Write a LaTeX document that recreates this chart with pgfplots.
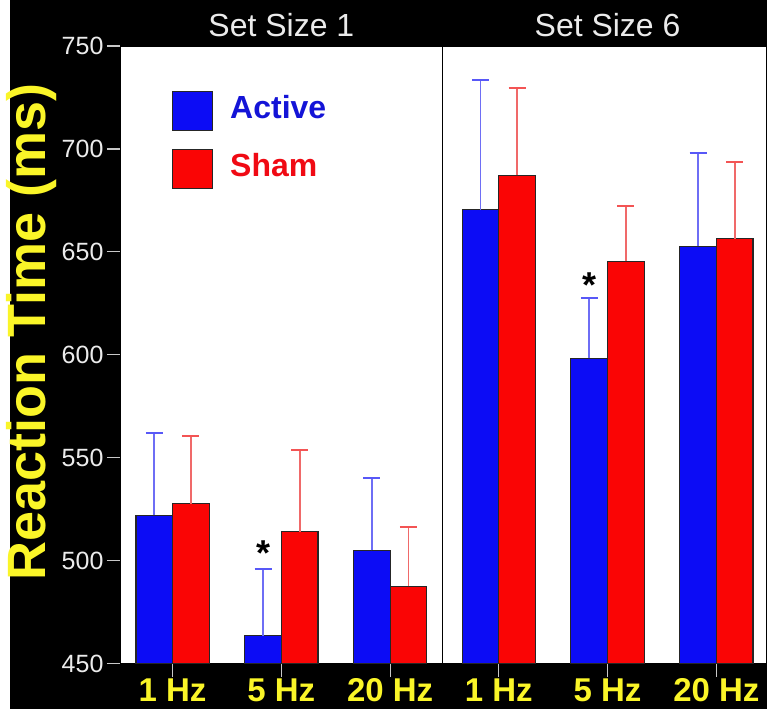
\documentclass[border=0pt]{standalone}
\usepackage{fontspec}
\setmainfont{Liberation Sans}
\usepackage{pgfplots}
\usepackage{pgfplotstable}
\pgfplotsset{compat=1.18}
\definecolor{barblue}{RGB}{12,12,245}
\definecolor{barred}{RGB}{250,5,5}
\definecolor{errblue}{RGB}{110,110,245}
\definecolor{errred}{RGB}{240,105,105}
\definecolor{labyellow}{RGB}{250,245,40}
\definecolor{tickgray}{RGB}{200,200,200}
\definecolor{txtblue}{RGB}{20,20,215}
\definecolor{txtred}{RGB}{240,10,20}

\pgfplotstableread{
x y e
0 522.0 40.0
1 463.6 32.4
2 505.0 35.0
3 670.4 63.0
4 598.3 29.3
5 652.8 45.2
}\activetab

\pgfplotstableread{
x y e
0 527.7 32.9
1 514.0 39.8
2 487.6 28.7
3 687.1 42.5
4 645.5 27.0
5 656.3 37.3
}\shamtab

\begin{document}
\begin{tikzpicture}[x=1pt,y=1pt]
\fill[black] (0,0) rectangle (767,709);
\fill[white] (0,0) rectangle (10.5,709);
\begin{axis}[
  at={(120pt,45pt)}, anchor=south west,
  scale only axis, width=647pt, height=618pt,
  xmin=-0.4844, xmax=5.4623, ymin=450, ymax=750,
  axis background/.style={fill=white},
  axis line style={black, line width=0.8pt},
  ytick={450,500,...,750},
  xtick={0,...,5},
  xticklabels={1 Hz,5 Hz,20 Hz,1 Hz,5 Hz,20 Hz},
  tick align=outside, tick pos=left,
  major tick length=13pt,
  tick style={tickgray, line width=1.2pt},
  /pgf/number format/assume math mode=true,
  yticklabel style={font=\fontsize{25}{25}\selectfont, text=white!92!black},
  xticklabel style={font=\fontsize{33}{33}\selectfont\bfseries, text=labyellow, inner sep=0pt, yshift=-2pt},
  ylabel={Reaction Time (ms)},
  ylabel style={font=\fontsize{54}{54}\selectfont\bfseries, text=labyellow,
    at={(axis description cs:-0.137,0.537)}, anchor=center},
  ybar, bar width=0.337, clip=false,
  legend style={at={(axis cs:-0.006,728.2)}, anchor=north west, draw=none, fill=none,
    inner sep=0pt, row sep=18pt, nodes={inner sep=0pt},
    font=\fontsize{32}{32}\selectfont\bfseries},
  legend cell align=left,
]
\addplot[fill=barblue, draw=black!85, line width=1.1pt, bar shift=-0.1685,
  legend image code/.code={\draw[fill=barblue, draw=black!85, line width=1.1pt] (0pt,-11.5pt) rectangle (40pt,27.5pt);},
  error bars/.cd, y dir=plus, y explicit,
  error bar style={errblue, line width=1.7pt},
  error mark options={errblue!80!blue, rotate=90, mark size=8.5pt, line width=2pt}]
  table[x=x, y=y, y error=e] {\activetab};
\addlegendentry{\hspace*{17pt}\smash{\textcolor{txtblue}{Active}}}
\addplot[fill=barred, draw=black!85, line width=1.1pt, bar shift=0.1685,
  legend image code/.code={\draw[fill=barred, draw=black!85, line width=1.1pt] (0pt,-11.5pt) rectangle (40pt,27.5pt);},
  error bars/.cd, y dir=plus, y explicit,
  error bar style={errred, line width=1.7pt},
  error mark options={errred!80!red, rotate=90, mark size=8.5pt, line width=2pt}]
  table[x=x, y=y, y error=e] {\shamtab};
\addlegendentry{\hspace*{17pt}\smash{\textcolor{txtred}{Sham}}}
\draw[black, line width=1.5pt] (axis cs:2.48,450) -- (axis cs:2.48,750);
\node[font=\fontsize{32}{32}\selectfont, text=white!92!black, anchor=base, yshift=9pt] at (axis cs:1,750) {Set Size 1};
\node[font=\fontsize{32}{32}\selectfont, text=white!92!black, anchor=base, yshift=9pt] at (axis cs:4,750) {Set Size 6};
\node[font=\fontsize{36}{36}\selectfont\bfseries, anchor=base] at (axis cs:0.8315,497.5) {*};
\node[font=\fontsize{36}{36}\selectfont\bfseries, anchor=base] at (axis cs:3.8315,628.0) {*};
\end{axis}
\end{tikzpicture}
\end{document}
